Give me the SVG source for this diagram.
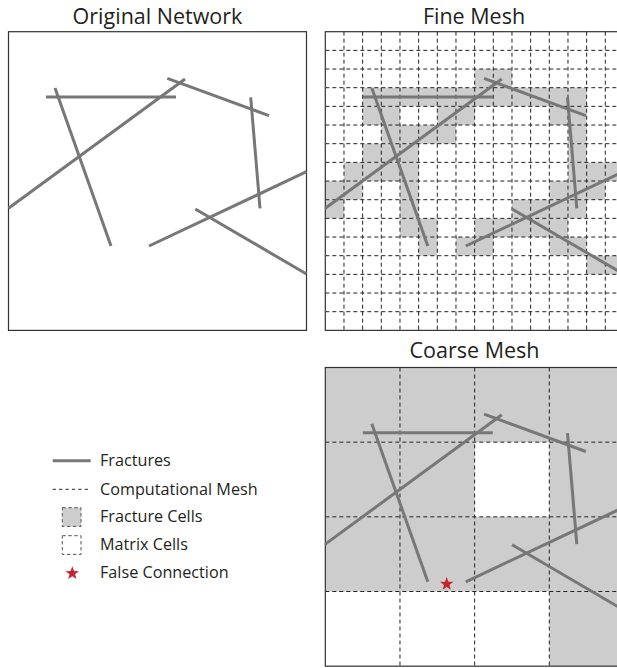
<svg xmlns="http://www.w3.org/2000/svg" xmlns:xlink="http://www.w3.org/1999/xlink" width="617" height="668" viewBox="0 0 617 668">
<style>
.title{font-family:"Open Sans","Liberation Sans",sans-serif;font-size:21.5px;fill:#231f20;text-anchor:middle}
.leg{font-family:"Open Sans","Liberation Sans",sans-serif;font-size:16.2px;fill:#231f20}
.box{fill:none;stroke:#333;stroke-width:1.2}
.frac{stroke:#777;stroke-width:3;fill:none}
.mesh{stroke:#222;stroke-width:1;fill:none;stroke-dasharray:4 3}
.cell{fill:#cdcdcd}
.red{fill:#c1272d}
</style>
<defs>
<g id="fr">
<line x1="46" y1="97" x2="176" y2="97"/>
<line x1="55" y1="88" x2="111" y2="246"/>
<line x1="8.5" y1="208.3" x2="185" y2="79"/>
<line x1="167.3" y1="78.3" x2="269" y2="115.7"/>
<line x1="250.7" y1="97.3" x2="260" y2="208.3"/>
<line x1="149" y1="246" x2="306.5" y2="171.7"/>
<line x1="195.3" y1="209" x2="306.5" y2="274"/>
</g>
<path id="star" d="M0,-7 L1.705,-2.346 L6.657,-2.163 L2.758,0.896 L4.114,5.663 L0,2.9 L-4.114,5.663 L-2.758,0.896 L-6.657,-2.163 L-1.705,-2.346 Z"/>
</defs>

<g id="original-network">
<text class="title" x="157.5" y="24">Original Network</text>
<rect class="box" x="8.5" y="31.7" width="298" height="298.7"/>
<use xlink:href="#fr" class="frac"/>
</g>

<g id="fine-mesh">
<text class="title" x="474" y="24">Fine Mesh</text>
<g transform="translate(325.3,31.7)">
<g class="cell">
<rect x="149.33" y="37.33" width="37.33" height="18.67"/>
<rect x="37.33" y="56" width="224" height="18.67"/>
<rect x="37.33" y="74.67" width="37.33" height="18.67"/>
<rect x="112" y="74.67" width="37.33" height="18.67"/>
<rect x="224" y="74.67" width="37.33" height="18.67"/>
<rect x="56" y="93.33" width="74.67" height="18.67"/>
<rect x="242.67" y="93.33" width="18.67" height="18.67"/>
<rect x="37.33" y="112" width="56" height="18.67"/>
<rect x="242.67" y="112" width="18.67" height="18.67"/>
<rect x="18.67" y="130.67" width="74.67" height="18.67"/>
<rect x="242.67" y="130.67" width="56" height="18.67"/>
<rect x="0" y="149.33" width="37.33" height="18.67"/>
<rect x="74.67" y="149.33" width="18.67" height="18.67"/>
<rect x="224" y="149.33" width="56" height="18.67"/>
<rect x="0" y="168" width="18.67" height="18.67"/>
<rect x="74.67" y="168" width="18.67" height="18.67"/>
<rect x="186.67" y="168" width="74.67" height="18.67"/>
<rect x="74.67" y="186.67" width="37.33" height="18.67"/>
<rect x="149.33" y="186.67" width="93.33" height="18.67"/>
<rect x="93.33" y="205.33" width="18.67" height="18.67"/>
<rect x="130.67" y="205.33" width="37.33" height="18.67"/>
<rect x="224" y="205.33" width="37.33" height="18.67"/>
<rect x="261.33" y="224" width="37.33" height="18.67"/>
</g>
<path class="mesh" d="M18.67,0V298.67M37.33,0V298.67M56,0V298.67M74.67,0V298.67M93.33,0V298.67M112,0V298.67M130.67,0V298.67M149.33,0V298.67M168,0V298.67M186.67,0V298.67M205.33,0V298.67M224,0V298.67M242.67,0V298.67M261.33,0V298.67M280,0V298.67M0,18.67H298.67M0,37.33H298.67M0,56H298.67M0,74.67H298.67M0,93.33H298.67M0,112H298.67M0,130.67H298.67M0,149.33H298.67M0,168H298.67M0,186.67H298.67M0,205.33H298.67M0,224H298.67M0,242.67H298.67M0,261.33H298.67M0,280H298.67"/>
<rect class="box" x="0" y="0" width="298.67" height="298.67"/>
</g>
<use xlink:href="#fr" class="frac" transform="translate(316.8,0)"/>
</g>

<g id="coarse-mesh">
<text class="title" x="474.5" y="358">Coarse Mesh</text>
<g transform="translate(325.3,367.5)">
<rect x="0" y="0" width="298.67" height="298.67" class="cell"/>
<rect x="149.33" y="74.67" width="74.67" height="74.67" fill="#fff"/>
<rect x="0" y="224" width="224" height="74.67" fill="#fff"/>
<path class="mesh" d="M74.67,0V298.67M149.33,0V298.67M224,0V298.67M0,74.67H298.67M0,149.33H298.67M0,224H298.67"/>
<rect class="box" x="0" y="0" width="298.67" height="298.67"/>
</g>
<use xlink:href="#fr" class="frac" transform="translate(316.8,335.8)"/>
<use xlink:href="#star" class="red" transform="translate(446.7,584)"/>
</g>

<g id="legend">
<line x1="52.7" y1="460.7" x2="90.7" y2="460.7" class="frac"/>
<text class="leg" x="100" y="466">Fractures</text>
<line x1="52.7" y1="489.3" x2="90.7" y2="489.3" stroke="#222" stroke-width="1" stroke-dasharray="3.2 3.2"/>
<text class="leg" x="100" y="494.5">Computational Mesh</text>
<rect x="62.3" y="507.7" width="18.7" height="18.7" class="cell" stroke="#555" stroke-width="1" stroke-dasharray="3.5 2.5"/>
<text class="leg" x="100" y="522">Fracture Cells</text>
<rect x="62.3" y="535.7" width="18.7" height="18.7" fill="none" stroke="#555" stroke-width="1" stroke-dasharray="3.5 2.5"/>
<text class="leg" x="100" y="550">Matrix Cells</text>
<use xlink:href="#star" class="red" transform="translate(72.3,573.3)"/>
<text class="leg" x="100" y="578">False Connection</text>
</g>
</svg>
